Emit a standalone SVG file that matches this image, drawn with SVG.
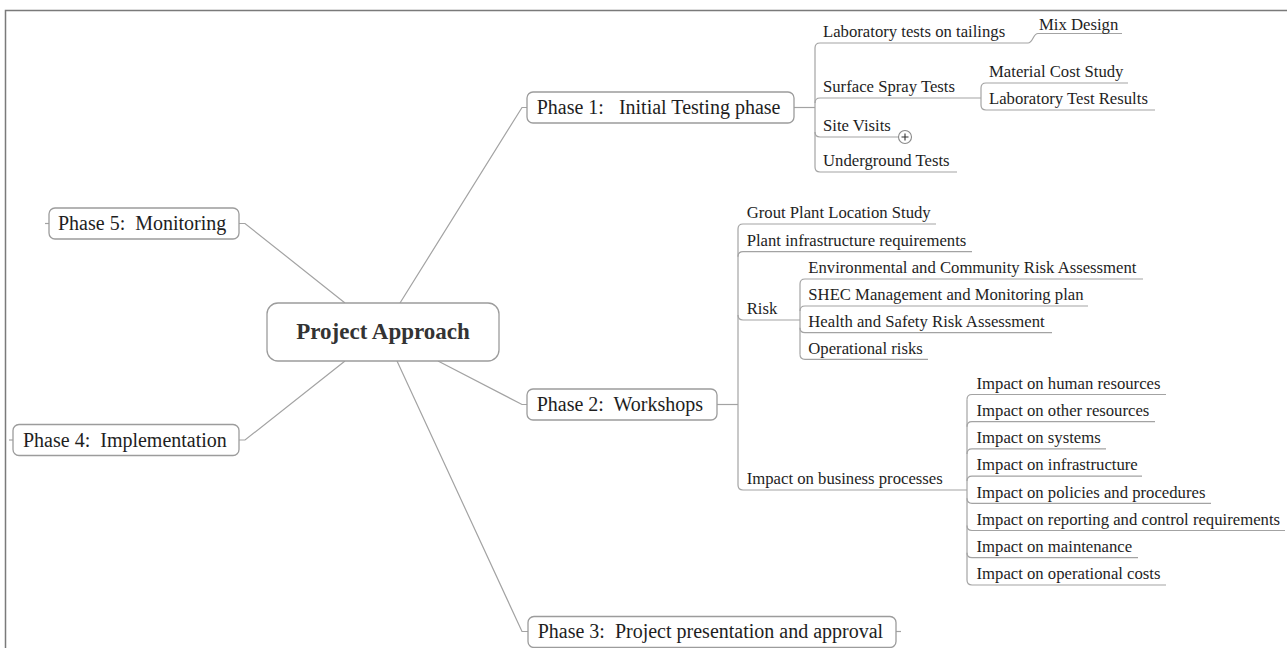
<svg xmlns="http://www.w3.org/2000/svg" width="1287" height="648" viewBox="0 0 1287 648">
<style>
.frame{fill:none;stroke:#7a7a7a;stroke-width:1.5}
.box{fill:#fff;stroke:#9c9c9c;stroke-width:1.3}
.ln{fill:none;stroke:#a3a3a3;stroke-width:1.2}
.t{font-family:"Liberation Serif","Times New Roman",serif;fill:#1e1e1e}
.p{font-size:20px}
.c{font-size:16.7px}
.title{font-size:23px;font-weight:bold;fill:#333}
</style>
<rect x="0" y="0" width="1287" height="648" fill="#fff"/>
<path class="frame" d="M5.5,648 V10.5 H1287"/>

<g id="connectors">
  <!-- center to phases -->
  <path class="ln" d="M400,303 L522,107.5 H527"/>
  <path class="ln" d="M438,361 L522,404.5 H527"/>
  <path class="ln" d="M397,361 L522,631.5 H528"/>
  <path class="ln" d="M345,303 L245,223.5 H239"/>
  <path class="ln" d="M345,361 L245,440 H239"/>
  <!-- stubs -->
  <path class="ln" d="M45,223.5 H49"/>
  <path class="ln" d="M9,440 H13"/>
  <path class="ln" d="M896,631.5 H901"/>
  <!-- phase 1 -->
  <path class="ln" d="M794,107.5 H815"/>
  <path class="ln" d="M815,48 V167"/>
  <path class="ln" d="M815,48 Q815,43 820,43 H1028 C1033,43 1033,33.5 1038,33.5 H1122"/>
  <path class="ln" d="M815,103 Q815,98 820,98 H981"/>
  <path class="ln" d="M981,88 V105"/>
  <path class="ln" d="M981,88 Q981,83 986,83 H1128"/>
  <path class="ln" d="M981,105 Q981,110 986,110 H1155"/>
  <path class="ln" d="M815,132 Q815,137 820,137 H898.5"/>
  <path class="ln" d="M815,167 Q815,172 820,172 H957"/>
  <!-- phase 2 -->
  <path class="ln" d="M717,404.5 H738"/>
  <path class="ln" d="M738,229 V485"/>
  <path class="ln" d="M738,229 Q738,224 743,224 H936"/>
  <path class="ln" d="M738,256.7 Q738,251.7 743,251.7 H972"/>
  <path class="ln" d="M738,315 Q738,320 743,320 H800"/>
  <path class="ln" d="M738,485 Q738,490 743,490 H967"/>
  <!-- risk -->
  <path class="ln" d="M800,284 V354.3"/>
  <path class="ln" d="M800,284 Q800,279 805,279 H1143"/>
  <path class="ln" d="M800,311 Q800,306 805,306 H1088"/>
  <path class="ln" d="M800,327.7 Q800,332.7 805,332.7 H1052"/>
  <path class="ln" d="M800,354.3 Q800,359.3 805,359.3 H928"/>
  <!-- business processes -->
  <path class="ln" d="M967,399.5 V580"/>
  <path class="ln" d="M967,399.5 Q967,394.5 972,394.5 H1166"/>
  <path class="ln" d="M967,426.7 Q967,421.7 972,421.7 H1155"/>
  <path class="ln" d="M967,453.9 Q967,448.9 972,448.9 H1106"/>
  <path class="ln" d="M967,481.1 Q967,476.1 972,476.1 H1142"/>
  <path class="ln" d="M967,498.3 Q967,503.3 972,503.3 H1211"/>
  <path class="ln" d="M967,525.5 Q967,530.5 972,530.5 H1285"/>
  <path class="ln" d="M967,552.7 Q967,557.7 972,557.7 H1138"/>
  <path class="ln" d="M967,580 Q967,585 972,585 H1166"/>
</g>

<g id="center">
  <rect class="box" x="267" y="303" width="232" height="58" rx="11"/>
  <text class="t title" x="383" y="338.5" text-anchor="middle">Project Approach</text>
</g>

<g id="phase1">
  <rect class="box" x="527" y="92" width="267" height="31" rx="6"/>
  <text class="t p" x="536.7" y="114" xml:space="preserve">Phase 1:   Initial Testing phase</text>
</g>
<g id="phase2">
  <rect class="box" x="527" y="389" width="190" height="31" rx="6"/>
  <text class="t p" x="536.7" y="411" xml:space="preserve">Phase 2:  Workshops</text>
</g>
<g id="phase3">
  <rect class="box" x="528" y="616.5" width="368" height="31" rx="6"/>
  <text class="t p" x="537.7" y="638" xml:space="preserve">Phase 3:  Project presentation and approval</text>
</g>
<g id="phase4">
  <rect class="box" x="13" y="424.5" width="226" height="31" rx="6"/>
  <text class="t p" x="23" y="446.5" xml:space="preserve">Phase 4:  Implementation</text>
</g>
<g id="phase5">
  <rect class="box" x="49" y="208" width="190" height="31" rx="6"/>
  <text class="t p" x="58" y="230" xml:space="preserve">Phase 5:  Monitoring</text>
</g>

<g id="lab-tests"><text class="t c" x="823" y="37.3">Laboratory tests on tailings</text></g>
<g id="mix-design"><text class="t c" x="1039" y="29.5">Mix Design</text></g>
<g id="surface-spray"><text class="t c" x="823" y="92.3">Surface Spray Tests</text></g>
<g id="material-cost"><text class="t c" x="989" y="77.3">Material Cost Study</text></g>
<g id="lab-results"><text class="t c" x="989" y="104.3">Laboratory Test Results</text></g>
<g id="site-visits">
  <text class="t c" x="823" y="131.3">Site Visits</text>
  <circle cx="905" cy="137" r="6.5" fill="#fff" stroke="#8a8a8a" stroke-width="1.1"/>
  <path d="M901.5,137 H908.5 M905,133.5 V140.5" stroke="#333" stroke-width="1.1"/>
</g>
<g id="underground"><text class="t c" x="823" y="166.3">Underground Tests</text></g>

<g id="grout"><text class="t c" x="746.7" y="218.3">Grout Plant Location Study</text></g>
<g id="plant-infra"><text class="t c" x="746.7" y="246">Plant infrastructure requirements</text></g>
<g id="risk"><text class="t c" x="746.7" y="314.3">Risk</text></g>
<g id="env-risk"><text class="t c" x="808.3" y="273.3">Environmental and Community Risk Assessment</text></g>
<g id="shec"><text class="t c" x="808.3" y="300.3">SHEC Management and Monitoring plan</text></g>
<g id="health-safety"><text class="t c" x="808.3" y="327">Health and Safety Risk Assessment</text></g>
<g id="op-risks"><text class="t c" x="808.3" y="353.6">Operational risks</text></g>
<g id="business"><text class="t c" x="746.7" y="484.3">Impact on business processes</text></g>
<g id="imp-human"><text class="t c" x="976.5" y="388.8">Impact on human resources</text></g>
<g id="imp-other"><text class="t c" x="976.5" y="416">Impact on other resources</text></g>
<g id="imp-systems"><text class="t c" x="976.5" y="443.2">Impact on systems</text></g>
<g id="imp-infra"><text class="t c" x="976.5" y="470.4">Impact on infrastructure</text></g>
<g id="imp-policies"><text class="t c" x="976.5" y="497.6">Impact on policies and procedures</text></g>
<g id="imp-reporting"><text class="t c" x="976.5" y="524.8">Impact on reporting and control requirements</text></g>
<g id="imp-maint"><text class="t c" x="976.5" y="552">Impact on maintenance</text></g>
<g id="imp-opcost"><text class="t c" x="976.5" y="579.3">Impact on operational costs</text></g>
</svg>
